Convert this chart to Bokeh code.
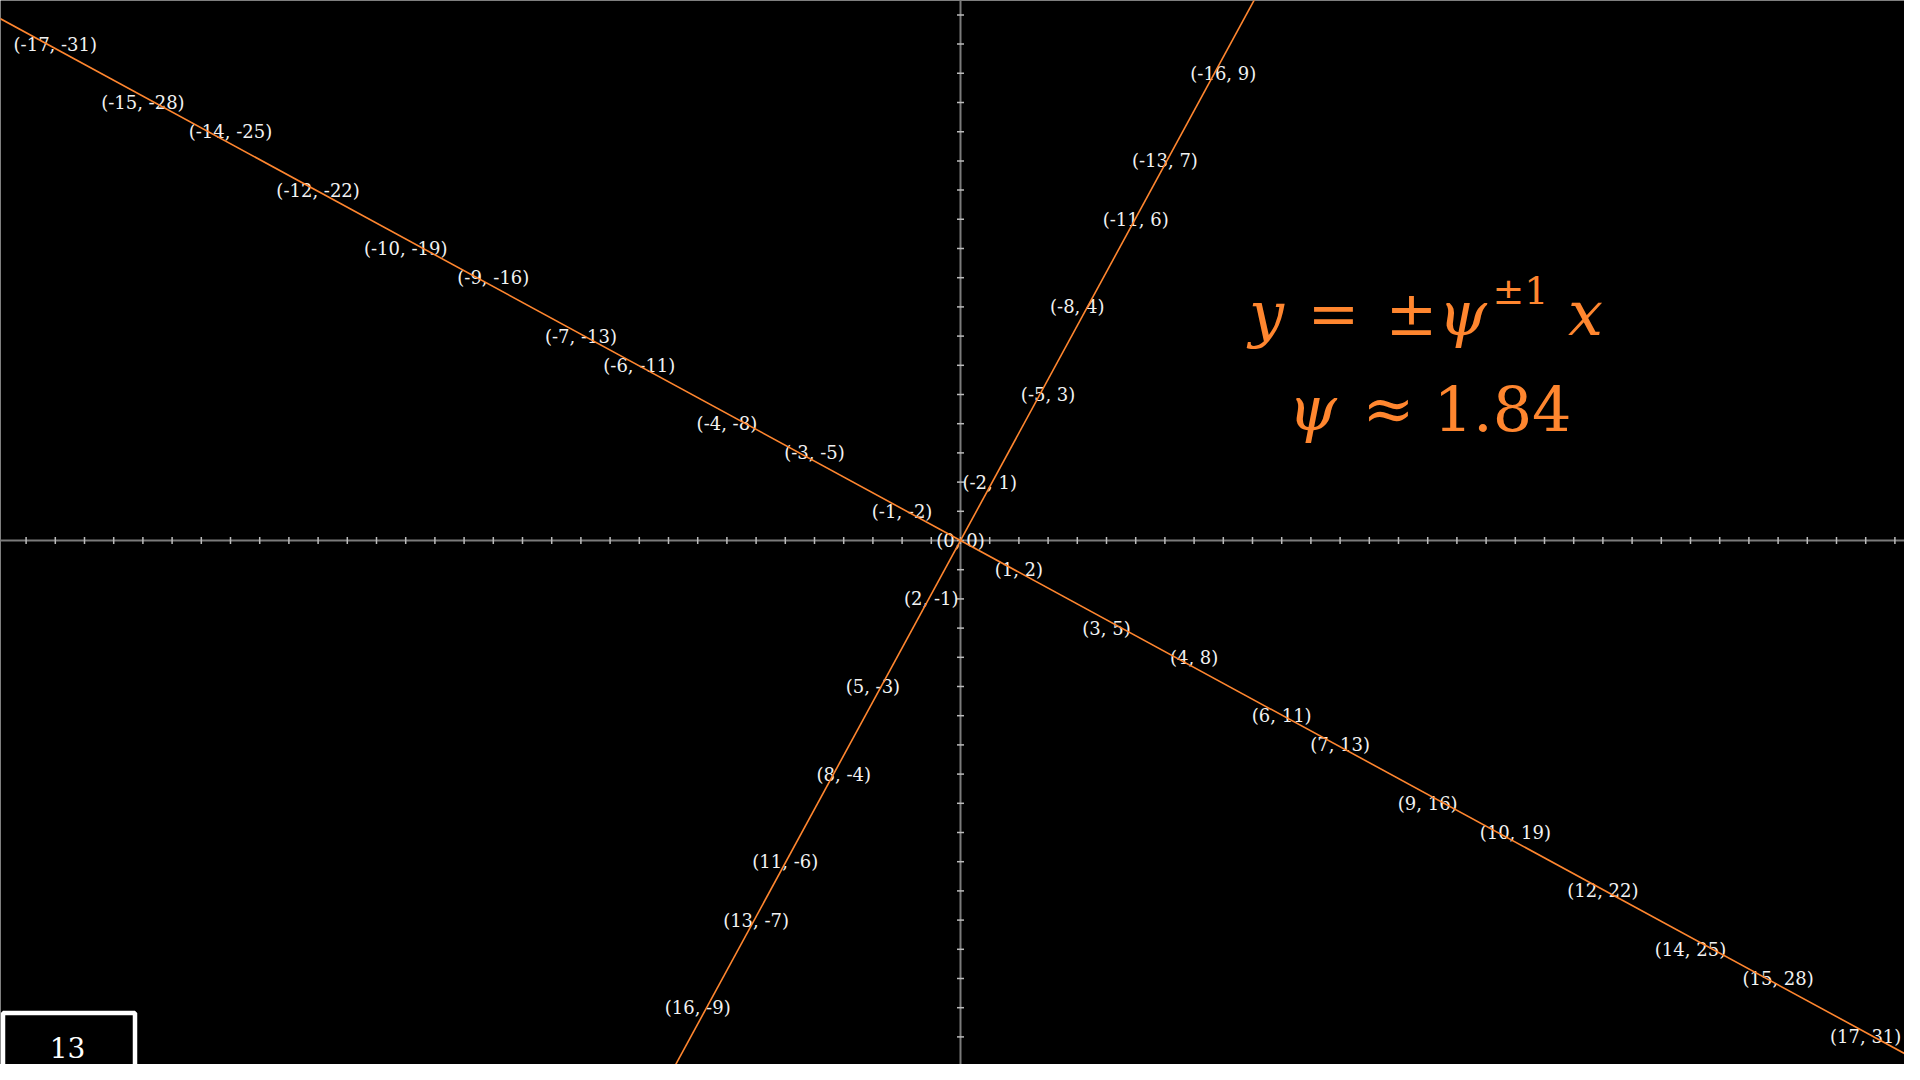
from bokeh.plotting import figure
from bokeh.models import Range1d, ColumnDataSource
from bokeh.core.properties import value
from bokeh.embed import file_html
from bokeh.resources import INLINE

# ---------------- data ----------------
psi = 1.84
# lattice points (a, b); drawn at (b, -a)
pt_a = [-17, -15, -14, -12, -10, -9, -7, -6, -4, -3, -1, 0, 1, 3, 4, 6, 7, 9, 10, 12, 14, 15, 17,
        -16, -13, -11, -8, -5, -2, 2, 5, 8, 11, 13, 16]
pt_b = [-31, -28, -25, -22, -19, -16, -13, -11, -8, -5, -2, 0, 2, 5, 8, 11, 13, 16, 19, 22, 25, 28, 31,
        9, 7, 6, 4, 3, 1, -1, -3, -4, -6, -7, -9]
tick_x = list(range(-32, 33))
tick_y = list(range(-18, 19))
slide_number = "13"

# ---------------- layout ----------------
W, H = 1904, 1064
S = 29.2  # pixels per unit
X0, Y0 = 960, 540  # origin in figure pixels

def px(img_x):
    return (img_x - X0) / S

def py(img_y):
    return (Y0 - img_y) / S

xmin, xmax = -X0 / S, (W - X0) / S
ymin, ymax = -(H - Y0) / S, Y0 / S

p = figure(width=W, height=H, output_backend="svg", toolbar_location=None,
           x_range=Range1d(xmin, xmax), y_range=Range1d(ymin, ymax),
           min_border=0, background_fill_color="black", border_fill_color="black")
p.outline_line_color = None
p.axis.visible = False
p.grid.visible = False

# axes
p.segment(x0=[xmin], y0=[0], x1=[xmax], y1=[0], line_color="#7a7a7a", line_width=2)
p.segment(x0=[0], y0=[ymin], x1=[0], y1=[ymax], line_color="#7a7a7a", line_width=2)
tl = 3.5 / S
p.segment(x0=tick_x, y0=[-tl] * len(tick_x), x1=tick_x, y1=[tl] * len(tick_x),
          line_color="#bbbbbb", line_width=1.5)
p.segment(x0=[-tl] * len(tick_y), y0=tick_y, x1=[tl] * len(tick_y), y1=tick_y,
          line_color="#bbbbbb", line_width=1.5)

# labels
src = ColumnDataSource(dict(
    x=pt_b, y=[-a for a in pt_a],
    t=[f"({a}, {b})" for a, b in zip(pt_a, pt_b)],
))
p.text(x="x", y="y", text="t", source=src, text_color="#f2f2f2",
       text_font=value("DejaVu Serif"), text_font_size="18px",
       text_align="center", text_baseline="middle")

# lines  y = -x/psi  and  y = psi*x
orange = "#FF862F"
p.line(x=[xmin - 1, xmax + 1], y=[-(xmin - 1) / psi, -(xmax + 1) / psi],
       line_color=orange, line_width=1.6)
p.line(x=[(ymin - 1) / psi, (ymax + 1) / psi], y=[ymin - 1, ymax + 1],
       line_color=orange, line_width=1.6)

# formula
SERIF = "DejaVu Serif"

def t(txt, x, y, size="62px", style="normal", align="center"):
    p.text(x=[px(x)], y=[py(y)], text=[txt], text_color=orange,
           text_font=value(SERIF), text_font_size=size,
           text_font_style=style, text_align=align, text_baseline="middle")

t("y", 1266, 313, style="italic")
t("=", 1333, 313)
t("±", 1411, 313)
t("ψ", 1462, 313, style="italic")
t("±1", 1492, 290, size="38px", align="left")
t("x", 1585, 313, style="italic")
t("ψ", 1312, 408, style="italic")
t("≈", 1388, 408)
t("1.84", 1502, 408)

# slide number box
p.quad(left=[px(2.5)], right=[px(134.5)], top=[py(1012.5)], bottom=[py(1077.5)],
       fill_color="black", line_color="white", line_width=4.5)
p.text(x=[px(67)], y=[py(1047)], text=[slide_number], text_color="white",
       text_font=value(SERIF), text_font_size="28px",
       text_align="center", text_baseline="middle")

open("out.html", "w").write(file_html(p, INLINE))
